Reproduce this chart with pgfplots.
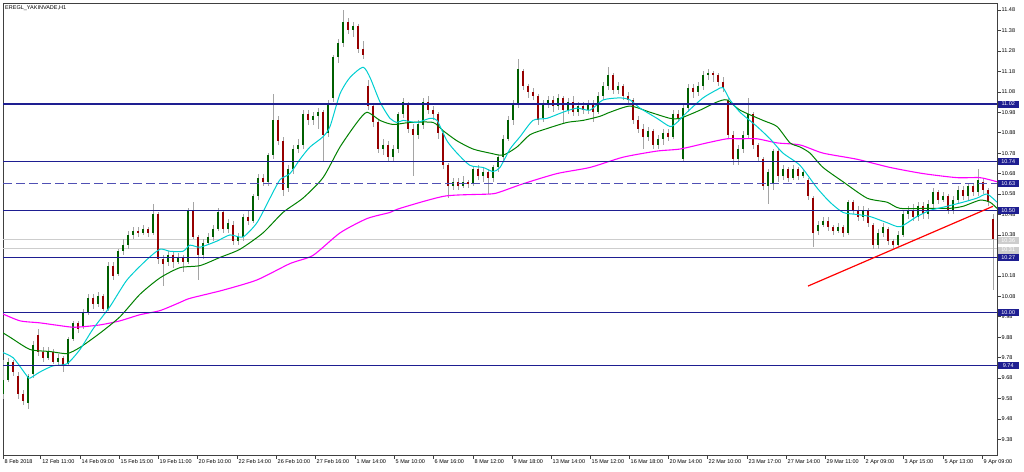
\documentclass[border=0pt]{standalone}
\usepackage{pgfplots}
\pgfplotsset{compat=1.18}
\usepackage{pgfplotstable}
\usepackage{fontspec}
\setmainfont{Liberation Sans}

\definecolor{mtnavy}{RGB}{30,30,145}
\definecolor{mtdash}{RGB}{80,80,180}
\definecolor{mtbull}{RGB}{0,95,0}
\definecolor{mtbear}{RGB}{150,0,0}
\definecolor{mtwick}{RGB}{165,165,165}
\definecolor{mtcyan}{RGB}{0,206,209}
\definecolor{mtgreen}{RGB}{0,128,0}
\definecolor{mtmag}{RGB}{255,0,255}
\definecolor{mtred}{RGB}{255,0,0}
\definecolor{mtgray}{RGB}{205,205,205}

% hourly candles: x position, open, high, low, close
\pgfplotstableread{
x o h l c
3 9.60 9.77 9.58 9.67
8 9.67 9.78 9.66 9.76
13 9.76 9.77 9.69 9.71
18 9.69 9.71 9.58 9.60
23 9.60 9.62 9.55 9.57
28 9.56 9.70 9.53 9.69
33 9.70 9.86 9.68 9.84
38 9.89 9.92 9.79 9.81
43 9.81 9.83 9.76 9.78
48 9.78 9.83 9.77 9.81
53 9.81 9.82 9.75 9.76
58 9.76 9.80 9.74 9.78
63 9.78 9.79 9.71 9.74
68 9.75 9.88 9.74 9.87
73 9.87 9.96 9.86 9.95
78 9.95 9.96 9.90 9.92
83 9.93 10.02 9.92 10.00
88 10.00 10.09 9.99 10.07
93 10.07 10.09 10.02 10.04
98 10.04 10.10 10.03 10.08
103 10.08 10.09 10.01 10.02
108 10.02 10.25 10.01 10.23
113 10.23 10.25 10.16 10.18
118 10.19 10.31 10.18 10.30
123 10.30 10.36 10.28 10.33
128 10.33 10.40 10.31 10.38
133 10.38 10.42 10.36 10.40
138 10.40 10.42 10.37 10.39
143 10.39 10.43 10.38 10.41
148 10.41 10.42 10.37 10.39
153 10.39 10.53 10.38 10.48
158 10.48 10.49 10.24 10.26
163 10.26 10.28 10.13 10.24
168 10.25 10.30 10.23 10.28
173 10.28 10.30 10.22 10.25
178 10.25 10.29 10.24 10.27
183 10.27 10.28 10.20 10.25
188 10.25 10.51 10.24 10.50
193 10.50 10.54 10.36 10.37
198 10.37 10.38 10.16 10.28
203 10.28 10.36 10.26 10.34
208 10.34 10.39 10.33 10.37
213 10.37 10.43 10.35 10.41
218 10.41 10.51 10.40 10.49
223 10.49 10.50 10.39 10.41
228 10.41 10.46 10.39 10.44
233 10.43 10.45 10.33 10.35
238 10.35 10.39 10.33 10.37
243 10.37 10.48 10.35 10.47
248 10.47 10.50 10.43 10.45
253 10.45 10.58 10.44 10.57
258 10.57 10.68 10.55 10.66
263 10.66 10.68 10.62 10.64
268 10.64 10.78 10.62 10.77
273 10.77 11.07 10.75 10.94
278 10.94 10.96 10.82 10.84
283 10.84 10.86 10.57 10.60
288 10.61 10.72 10.59 10.70
293 10.70 10.82 10.68 10.80
298 10.80 10.85 10.78 10.82
303 10.82 10.99 10.80 10.97
308 10.97 10.99 10.92 10.94
313 10.94 10.98 10.92 10.96
318 10.96 11.00 10.90 10.98
323 10.98 10.99 10.74 10.87
328 10.88 11.04 10.86 11.02
333 11.05 11.26 11.03 11.25
338 11.25 11.34 11.22 11.32
343 11.32 11.48 11.30 11.42
348 11.42 11.44 11.36 11.38
353 11.38 11.42 11.35 11.40
358 11.40 11.41 11.27 11.29
363 11.29 11.33 11.24 11.26
368 11.11 11.14 10.99 11.01
373 11.01 11.02 10.91 10.93
378 10.93 10.94 10.78 10.80
383 10.80 10.85 10.77 10.82
388 10.82 10.84 10.74 10.76
393 10.76 10.82 10.74 10.80
398 10.80 10.98 10.78 10.97
403 10.97 11.05 10.95 11.03
408 11.02 11.03 10.88 10.90
413 10.90 10.92 10.67 10.87
418 10.87 10.94 10.85 10.92
423 10.92 11.05 10.90 11.03
428 11.03 11.06 10.97 10.99
433 10.99 11.01 10.94 10.97
438 10.97 10.98 10.85 10.88
443 10.88 10.89 10.70 10.72
448 10.72 10.73 10.56 10.62
453 10.62 10.66 10.60 10.64
458 10.64 10.66 10.60 10.62
463 10.62 10.67 10.61 10.64
468 10.64 10.65 10.61 10.63
473 10.63 10.71 10.62 10.70
478 10.70 10.72 10.65 10.67
483 10.67 10.71 10.64 10.69
488 10.69 10.70 10.58 10.66
493 10.66 10.72 10.64 10.71
498 10.71 10.77 10.69 10.76
503 10.76 10.87 10.74 10.85
508 10.85 10.96 10.84 10.94
513 10.94 11.04 10.92 11.02
518 11.02 11.24 11.00 11.19
523 11.18 11.19 11.09 11.11
528 11.11 11.12 11.05 11.08
533 11.08 11.10 11.04 11.06
538 11.06 11.07 10.92 10.94
543 10.95 11.04 10.93 11.02
548 11.02 11.06 11.00 11.04
553 11.04 11.06 10.98 11.01
558 11.01 11.07 10.99 11.05
563 11.05 11.06 10.92 10.99
568 10.99 11.05 10.97 11.03
573 11.03 11.06 10.96 10.98
578 10.98 11.03 10.96 11.01
583 11.01 11.03 10.97 10.99
588 10.99 11.04 10.97 11.02
593 11.02 11.04 10.93 10.98
598 10.98 11.08 10.97 11.06
603 11.06 11.13 11.04 11.11
608 11.11 11.20 11.09 11.16
613 11.16 11.17 11.07 11.09
618 11.09 11.13 11.07 11.11
623 11.11 11.12 11.04 11.06
628 11.06 11.08 11.02 11.04
633 11.04 11.05 10.92 10.94
638 10.94 10.96 10.88 10.90
643 10.90 10.92 10.80 10.86
648 10.86 10.91 10.84 10.89
653 10.89 10.90 10.80 10.82
658 10.82 10.87 10.80 10.85
663 10.85 10.90 10.82 10.88
668 10.88 10.90 10.84 10.86
673 10.86 10.99 10.85 10.97
678 10.97 10.99 10.93 10.95
683 10.75 11.02 10.74 11.00
688 11.00 11.12 10.98 11.10
693 11.10 11.12 11.05 11.08
698 11.08 11.13 11.06 11.11
703 11.11 11.18 11.09 11.16
708 11.16 11.19 11.14 11.17
713 11.17 11.18 11.13 11.16
718 11.16 11.17 11.11 11.13
723 11.13 11.15 11.08 11.10
728 11.04 11.05 10.85 10.87
733 10.87 10.89 10.72 10.75
738 10.75 10.82 10.72 10.80
743 10.80 10.89 10.78 10.87
748 10.87 11.05 10.85 10.97
753 10.97 10.98 10.80 10.82
758 10.82 10.83 10.74 10.76
763 10.75 10.76 10.60 10.62
768 10.62 10.70 10.53 10.69
773 10.63 10.80 10.60 10.79
778 10.79 10.80 10.64 10.67
783 10.67 10.72 10.65 10.70
788 10.70 10.71 10.64 10.66
793 10.66 10.72 10.65 10.70
798 10.70 10.71 10.65 10.67
803 10.67 10.70 10.66 10.69
808 10.65 10.66 10.55 10.57
813 10.56 10.57 10.32 10.39
818 10.40 10.45 10.38 10.43
823 10.43 10.47 10.42 10.45
828 10.45 10.47 10.40 10.42
833 10.42 10.43 10.38 10.40
838 10.40 10.44 10.39 10.42
843 10.42 10.43 10.37 10.39
848 10.39 10.55 10.38 10.54
853 10.54 10.55 10.48 10.50
858 10.50 10.52 10.45 10.47
863 10.47 10.52 10.45 10.50
868 10.50 10.51 10.42 10.44
873 10.43 10.44 10.31 10.33
878 10.33 10.41 10.31 10.39
883 10.39 10.44 10.37 10.42
888 10.41 10.42 10.33 10.35
893 10.35 10.36 10.31 10.33
898 10.33 10.40 10.32 10.38
903 10.38 10.50 10.37 10.48
908 10.48 10.52 10.46 10.50
913 10.50 10.53 10.45 10.47
918 10.47 10.54 10.45 10.52
923 10.52 10.54 10.46 10.48
928 10.48 10.55 10.46 10.53
933 10.53 10.61 10.51 10.59
938 10.59 10.60 10.53 10.55
943 10.55 10.59 10.54 10.57
948 10.57 10.58 10.48 10.50
953 10.50 10.57 10.48 10.55
958 10.55 10.62 10.53 10.60
963 10.60 10.62 10.55 10.57
968 10.57 10.63 10.55 10.62
973 10.62 10.63 10.57 10.59
978 10.59 10.70 10.57 10.65
983 10.64 10.66 10.58 10.60
988 10.60 10.61 10.52 10.54
993 10.46 10.48 10.11 10.36
}\candles

\pgfplotstableread{
x y
0 10.00
20 9.96
40 9.95
70 9.93
80 9.93
100 9.94
120 9.96
140 9.99
160 10.01
180 10.05
190 10.07
223 10.11
257 10.16
290 10.24
313 10.28
340 10.39
367 10.46
390 10.49
400 10.51
445 10.57
490 10.58
500 10.59
523 10.63
557 10.68
590 10.71
623 10.76
657 10.79
680 10.80
707 10.83
727 10.85
740 10.85
757 10.85
777 10.83
800 10.82
823 10.78
857 10.75
890 10.71
923 10.68
957 10.66
980 10.66
997 10.64
}\maslow

\pgfplotstableread{
x y
0 9.91
10 9.88
30 9.82
50 9.81
67 9.80
80 9.83
100 9.90
120 9.98
140 10.09
160 10.17
180 10.22
200 10.23
220 10.27
240 10.31
263 10.39
283 10.49
303 10.56
323 10.66
340 10.81
357 10.93
367 10.98
380 10.94
393 10.92
410 10.93
433 10.93
443 10.89
457 10.84
473 10.80
490 10.78
503 10.77
517 10.81
530 10.87
547 10.90
567 10.93
583 10.94
600 10.96
610 10.98
630 11.01
650 10.98
670 10.95
680 10.95
700 10.99
717 11.03
727 11.04
740 10.99
763 10.94
777 10.91
790 10.83
800 10.81
810 10.78
823 10.71
843 10.64
867 10.56
887 10.54
900 10.51
930 10.51
950 10.51
963 10.52
980 10.55
990 10.54
997 10.51
}\mamid

\pgfplotstableread{
x y
0 9.81
13 9.78
27 9.69
30 9.68
40 9.71
53 9.74
67 9.75
80 9.82
93 9.92
110 10.03
127 10.16
147 10.26
160 10.31
170 10.30
183 10.30
190 10.33
200 10.32
217 10.35
230 10.38
243 10.37
257 10.44
270 10.56
280 10.65
290 10.68
300 10.75
310 10.81
323 10.86
330 10.91
340 11.07
350 11.15
363 11.20
370 11.15
380 11.03
390 10.95
397 10.93
403 10.94
417 10.93
430 10.95
437 10.94
447 10.84
457 10.78
470 10.72
483 10.71
493 10.69
500 10.71
510 10.80
520 10.86
533 10.94
547 10.95
563 10.98
577 11.00
590 10.99
603 11.04
620 11.05
630 11.04
640 11.00
657 10.95
670 10.91
677 10.93
687 10.98
703 11.05
717 11.09
723 11.10
730 11.04
740 10.98
757 10.91
770 10.85
783 10.78
800 10.72
817 10.61
830 10.54
843 10.49
857 10.48
870 10.47
887 10.44
900 10.42
917 10.47
930 10.50
947 10.52
963 10.54
977 10.56
987 10.58
997 10.54
}\mafast

\begin{document}
\begin{tikzpicture}
\begin{axis}[
    name=ax,
    scale only axis,
    width=994pt, height=452pt,
    xmin=3, xmax=997,
    ymin=9.304, ymax=11.514,
    axis line style={black!75, line width=0.6pt},
    tick align=outside,
    major tick length=3.5pt,
    tick style={black!75, line width=0.5pt},
    xtick pos=bottom, ytick pos=right,
    yticklabel pos=right,
    xtick={3,40.7,80,119,158,197,237,276,315,355,394,433,473,512,551,590,629,668,707,747,786,825,864,903,943,982},
    xticklabels={8 Feb 2018,12 Feb 11:00,14 Feb 09:00,15 Feb 15:00,19 Feb 11:00,20 Feb 10:00,22 Feb 14:00,26 Feb 10:00,27 Feb 16:00,1 Mar 14:00,5 Mar 10:00,6 Mar 16:00,8 Mar 12:00,9 Mar 18:00,13 Mar 14:00,15 Mar 12:00,16 Mar 18:00,20 Mar 14:00,22 Mar 10:00,23 Mar 17:00,27 Mar 14:00,29 Mar 11:00,2 Apr 09:00,3 Apr 15:00,5 Apr 13:00,9 Apr 09:00},
    ytick={9.38,9.48,9.58,9.68,9.78,9.88,9.98,10.08,10.18,10.28,10.38,10.48,10.58,10.68,10.78,10.88,10.98,11.08,11.18,11.28,11.38,11.48},
    /pgf/number format/fixed,
    /pgf/number format/fixed zerofill,
    /pgf/number format/precision=2,
    /pgf/number format/assume math mode=true,
    tick label style={font=\fontsize{5.5}{6}\selectfont, black},
    xticklabel style={anchor=north west, inner sep=0pt, xshift=1.5pt, yshift=-0.5pt},
    yticklabel style={anchor=west, inner sep=0pt, xshift=1pt},
    clip=true,
    candle/.style={draw=none, mark=none, forget plot,
        error bars/.cd, y dir=both, y explicit, error mark=none},
]
% bid/ask lines
\addplot[mtgray, line width=0.8pt, forget plot] coordinates {(3,10.36) (997,10.36)};
\addplot[mtgray, line width=0.8pt, forget plot] coordinates {(3,10.315) (997,10.315)};

% wicks
\addplot[candle, error bar style={draw=mtwick, line width=0.7pt}]
  table[x=x, y expr={(\thisrow{h}+\thisrow{l})/2}, y error expr={(\thisrow{h}-\thisrow{l})/2}] {\candles};
% bullish bodies
\addplot[candle, error bar style={draw=mtbull, line width=2.2pt}]
  table[x=x, y expr={\thisrow{c}>=\thisrow{o} ? (\thisrow{o}+\thisrow{c})/2 : nan},
        y error expr={max(abs(\thisrow{c}-\thisrow{o})/2,0.003)}] {\candles};
% bearish bodies
\addplot[candle, error bar style={draw=mtbear, line width=2.2pt}]
  table[x=x, y expr={\thisrow{c}<\thisrow{o} ? (\thisrow{o}+\thisrow{c})/2 : nan},
        y error expr={max(abs(\thisrow{c}-\thisrow{o})/2,0.003)}] {\candles};

% moving averages
\addplot[mtmag, line width=1.1pt, smooth, tension=0.4] table {\maslow};
\addplot[mtgreen, line width=1.0pt, smooth, tension=0.4] table {\mamid};
\addplot[mtcyan, line width=1.0pt, smooth, tension=0.4] table {\mafast};

% horizontal levels
\addplot[mtnavy, line width=1.3pt] coordinates {(3,11.02) (997,11.02)};
\addplot[mtnavy, line width=1.3pt] coordinates {(3,10.74) (997,10.74)};
\addplot[mtdash, line width=0.8pt, dash pattern=on 9pt off 4pt] coordinates {(3,10.63) (997,10.63)};
\addplot[mtnavy, line width=1.3pt] coordinates {(3,10.50) (997,10.50)};
\addplot[mtnavy, line width=1.3pt] coordinates {(3,10.27) (997,10.27)};
\addplot[mtnavy, line width=1.3pt] coordinates {(3,10.00) (997,10.00)};
\addplot[mtnavy, line width=1.3pt] coordinates {(3,9.74) (997,9.74)};

% trend line
\addplot[mtred, line width=1.2pt] coordinates {(808,10.13) (993,10.52)};

\coordinate (l1) at (axis cs:997,11.02);
\coordinate (l2) at (axis cs:997,10.74);
\coordinate (l3) at (axis cs:997,10.63);
\coordinate (l4) at (axis cs:997,10.50);
\coordinate (l5) at (axis cs:997,10.27);
\coordinate (l6) at (axis cs:997,10.00);
\coordinate (l7) at (axis cs:997,9.74);
\coordinate (g1) at (axis cs:997,10.36);
\coordinate (g2) at (axis cs:997,10.315);
\end{axis}

\tikzset{lvl/.style={anchor=west, fill=mtnavy, text=white, inner sep=0.6pt,
    minimum width=21pt, minimum height=7pt, font=\fontsize{5.5}{6}\selectfont}}
\node[lvl] at ([xshift=0.5pt]l1) {11.02};
\node[lvl] at ([xshift=0.5pt]l2) {10.74};
\node[lvl] at ([xshift=0.5pt]l3) {10.63};
\node[lvl] at ([xshift=0.5pt]l4) {10.50};
\node[lvl] at ([xshift=0.5pt]l5) {10.27};
\node[lvl] at ([xshift=0.5pt]l6) {10.00};
\node[lvl] at ([xshift=0.5pt]l7) {9.74};
\node[lvl, fill=mtgray] at ([xshift=0.5pt,yshift=-1.2pt]g1) {10.36};
\node[lvl, fill=mtgray] at ([xshift=0.5pt,yshift=-1.8pt]g2) {10.31};

\node[anchor=north west, inner sep=0pt, font=\fontsize{5.5}{6}\selectfont]
  at ([shift={(2pt,-2.5pt)}]ax.north west) {EREGL\_YAKINVADE,H1};

\pgfresetboundingbox
\path[use as bounding box] ([shift={(-3pt,-16pt)}]ax.south west) rectangle ([shift={(27pt,3pt)}]ax.north east);
\end{tikzpicture}
\end{document}
